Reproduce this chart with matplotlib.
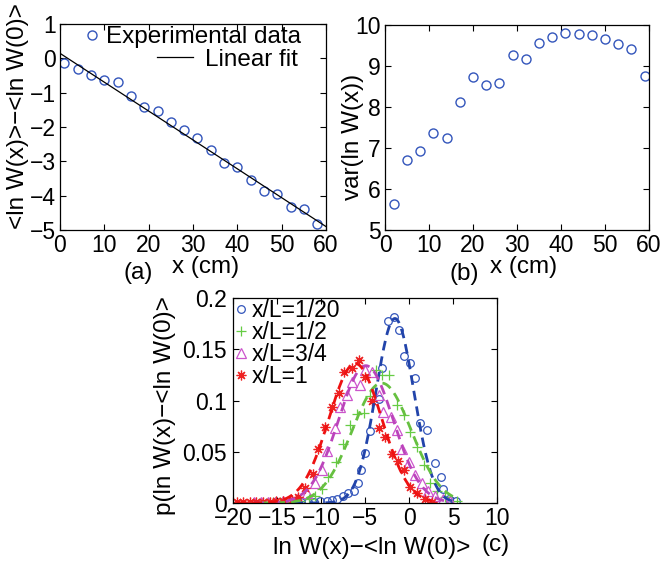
import numpy as np
import matplotlib
matplotlib.use("Agg")
import matplotlib.pyplot as plt
from matplotlib.lines import Line2D

plt.rcParams['font.family'] = ['Liberation Sans', 'DejaVu Sans']

# ---- panel (a): mean of ln W versus x
xa = [1, 4, 7, 10, 13, 16, 19, 22, 25, 28, 31, 34, 37, 40, 43, 46, 49, 52, 55, 58]
ya = [-0.15, -0.32, -0.49, -0.63, -0.68, -1.09, -1.41, -1.53, -1.84, -2.08,
      -2.32, -2.67, -3.06, -3.17, -3.55, -3.85, -3.95, -4.32, -4.39, -4.82]
fit_intercept = 0.146
fit_slope = -0.0841
fit_x = [0, 60]

# ---- panel (b): variance of ln W versus x
xb = [2, 5, 8, 11, 14, 17, 20, 23, 26, 29, 32, 35, 38, 41, 44, 47, 50, 53, 56, 59]
yb = [5.64, 6.70, 6.93, 7.37, 7.24, 8.12, 8.74, 8.53, 8.58, 9.27,
      9.17, 9.57, 9.70, 9.81, 9.77, 9.76, 9.65, 9.53, 9.41, 8.75]

# ---- panel (c): distributions
x_blue = [-13.1, -12.3, -11.5, -10.8, -10.1, -9.3, -8.7, -8.2, -7.5, -6.9, -6.3, -5.8,
          -5.4, -4.96, -4.4, -3.45, -3.07, -2.4, -1.74, -1.1, -0.53, 0.08, 0.7, 1.3,
          2.05, 3.0, 3.6, 3.9, 4.5, 5.3]
p_blue = [0.0005, 0.0008, 0.001, 0.001, 0.0015, 0.002, 0.003, 0.004, 0.007, 0.010, 0.012, 0.020,
          0.032, 0.049, 0.070, 0.101, 0.132, 0.178, 0.181, 0.169, 0.143, 0.137, 0.122, 0.078,
          0.071, 0.039, 0.025, 0.014, 0.004, 0.002]

x_green = [-17.0, -16.2, -15.5, -14.7, -14.0, -13.2, -12.4, -11.4, -10.7, -9.9, -9.2, -8.3,
           -7.5, -6.7, -5.95, -5.1, -4.4, -3.7, -3.1, -2.3, -1.4, -0.6, 0.15, 0.9, 1.7,
           2.4, 3.2, 4.1, 5.45]
p_green = [0.0003, 0.0004, 0.0005, 0.0006, 0.0008, 0.001, 0.0016, 0.004, 0.007, 0.014, 0.025, 0.040,
           0.058, 0.076, 0.087, 0.088, 0.104, 0.130, 0.125, 0.125, 0.096, 0.086, 0.069, 0.055, 0.037,
           0.020, 0.012, 0.006, 0.0016]

x_mag = [-17.6, -16.8, -16.0, -15.2, -14.3, -13.5, -12.7, -11.6, -10.7, -9.9, -9.3, -8.4,
         -7.8, -7.05, -6.5, -5.6, -5.0, -4.2, -3.45, -2.9, -2.1, -1.4, -0.8, 0.0, 0.7,
         1.5, 2.2, 3.0, 3.9, 4.7]
p_mag = [0.0005, 0.0008, 0.001, 0.001, 0.0015, 0.002, 0.004, 0.010, 0.020, 0.032, 0.051, 0.073,
         0.094, 0.105, 0.118, 0.115, 0.130, 0.128, 0.105, 0.089, 0.084, 0.071, 0.053, 0.040, 0.027,
         0.020, 0.012, 0.007, 0.004, 0.002]

x_red = [-19.6, -18.9, -18.1, -17.4, -16.6, -15.8, -15.1, -14.3, -13.3, -12.6, -11.8, -10.9,
         -10.3, -9.55, -8.8, -7.9, -7.35, -6.5, -5.7, -5.0, -4.2, -3.45, -2.7, -1.9, -1.2,
         -0.6, 0.15, 0.9, 1.85, 2.6]
p_red = [0.0005, 0.0005, 0.0006, 0.0008, 0.001, 0.0012, 0.0015, 0.002, 0.003, 0.006, 0.015, 0.028,
         0.053, 0.074, 0.094, 0.107, 0.128, 0.132, 0.140, 0.123, 0.100, 0.073, 0.064, 0.048, 0.041,
         0.032, 0.016, 0.010, 0.004, 0.0007]

# gaussian fits (peak, centre, width)
fit_blue = (0.180, -1.6, 2.15)
fit_green = (0.117, -3.1, 3.35)
fit_mag = (0.134, -4.9, 3.1)
fit_red = (0.136, -6.1, 3.0)

labels_c = ['x/L=1/20', 'x/L=1/2', 'x/L=3/4', 'x/L=1']

W, H = 661, 562
fig = plt.figure(figsize=(W / 100, H / 100), dpi=100)


def rect(l, t, r, b):
    return [l / W, 1 - b / H, (r - l) / W, (b - t) / H]


def ftext(x, y, s, **kw):
    fig.text(x / W, 1 - y / H, s, ha='center', va='center', fontsize=17.5, **kw)


def style(ax, ypad=3):
    ax.tick_params(direction='in', top=True, right=True, length=4, width=0.8,
                   labelsize=16.5)
    ax.tick_params(axis='x', pad=3)
    ax.tick_params(axis='y', pad=ypad)
    for sp in ax.spines.values():
        sp.set_linewidth(0.9)


blue = '#3355bb'
green = '#66cc44'
mag = '#cc55cc'
red = '#ee2222'
asterisk = (8, 2, 0)

# (a)
axa = fig.add_axes(rect(60, 24, 326, 230))
axa.plot(xa, ya, 'o', ms=6.5, mfc='none', mec=blue, mew=1.0)
fx = np.array(fit_x)
axa.plot(fx, fit_intercept + fit_slope * fx, color='k', lw=0.9)
axa.set_xlim(0, 60)
axa.set_ylim(-5, 1)
axa.set_xticks(range(0, 61, 10))
axa.set_yticks(range(-5, 2))
style(axa)
h1 = Line2D([], [], ls='none', marker='o', ms=6.5, mfc='none', mec=blue, mew=1.0)
h2 = Line2D([], [], color='k', lw=0.9)
leg1 = axa.legend([h1], ['Experimental data'], loc='upper right', bbox_to_anchor=(0.905, 0.99),
                  frameon=False, fontsize=17.5, handlelength=0.5, handletextpad=0.3,
                  borderpad=0, borderaxespad=0)
axa.add_artist(leg1)
axa.legend([h2], ['Linear fit'], loc='upper right', bbox_to_anchor=(0.895, 0.88),
           frameon=False, fontsize=17.5, handlelength=1.5, handletextpad=0.5,
           borderpad=0, borderaxespad=0)

# (b)
axb = fig.add_axes(rect(385, 25, 649, 230))
axb.plot(xb, yb, 'o', ms=6.5, mfc='none', mec=blue, mew=1.0)
axb.set_xlim(0, 60)
axb.set_ylim(5, 10)
axb.set_xticks(range(0, 61, 10))
axb.set_yticks(range(5, 11))
style(axb)

# (c)
axc = fig.add_axes(rect(233, 298, 497, 503))
series = [(x_blue, p_blue, fit_blue, blue, '#2244aa', 'o', 5.5),
          (x_green, p_green, fit_green, green, '#66c040', '+', 7),
          (x_mag, p_mag, fit_mag, mag, '#bb44bb', '^', 6.5),
          (x_red, p_red, fit_red, red, '#ee1111', asterisk, 7)]
handles = []
for (xs, ps, fit, col, dcol, mk, ms) in series:
    if mk in ('+', asterisk):
        axc.plot(xs, ps, marker=mk, ms=ms, color=col, mew=0.9, ls='none')
        hh = Line2D([], [], ls='none', marker=mk, ms=ms, color=col, mew=0.9)
    else:
        axc.plot(xs, ps, marker=mk, ms=ms, mfc='none', mec=col, mew=0.9, ls='none')
        hh = Line2D([], [], ls='none', marker=mk, ms=ms, mfc='none', mec=col, mew=0.9)
    handles.append(hh)
for (xs, ps, fit, col, dcol, mk, ms) in series:
    a, mu, s = fit
    xx = np.linspace(min(xs), max(xs), 300)
    axc.plot(xx, a * np.exp(-(xx - mu) ** 2 / (2 * s * s)), ls=(0, (3.5, 2.2)),
             color=dcol, lw=2.0)
axc.set_xlim(-20, 10)
axc.set_ylim(0, 0.2)
axc.set_xticks(range(-20, 11, 5))
axc.set_yticks([0, 0.05, 0.1, 0.15, 0.2])
axc.set_yticklabels(['0', '0.05', '0.1', '0.15', '0.2'])
style(axc, ypad=4.5)
axc.legend(handles, labels_c, loc='upper left', bbox_to_anchor=(0.0, 1.0),
           frameon=False, fontsize=16.5, handlelength=0.6, handletextpad=0.15,
           labelspacing=-0.05, borderpad=0.05, borderaxespad=0)

# labels
ftext(18, 116, '<ln W(x)>\u2212<ln W(0)>', rotation=90)
ftext(138, 273, '(a)')
ftext(206, 267, 'x (cm)')
ftext(353, 137, 'var(ln W(x))', rotation=90)
ftext(464, 274, '(b)')
ftext(524, 267, 'x (cm)')
ftext(165, 406, 'p(ln W(x)\u2212<ln W(0)>', rotation=90)
ftext(372, 548, 'ln W(x)\u2212<ln W(0)>')
ftext(496, 545, '(c)')

fig.savefig('out.png', dpi=100)
